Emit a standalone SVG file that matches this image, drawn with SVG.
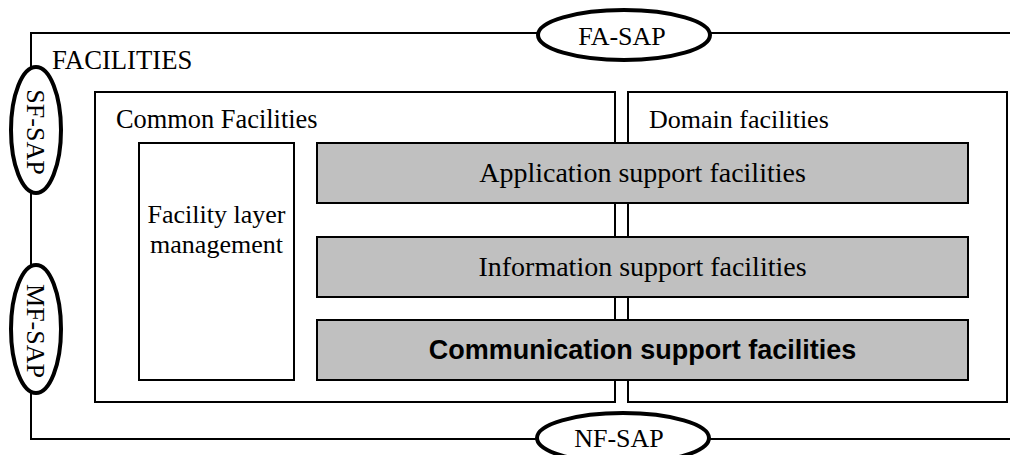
<svg xmlns="http://www.w3.org/2000/svg" width="1010" height="455" viewBox="0 0 1010 455">
<style>
.box{fill:#fff;stroke:#000;stroke-width:2}
.gray{fill:#c0c0c0;stroke:#000;stroke-width:2}
.sap{fill:#fff;stroke:#000;stroke-width:4}
.line{fill:none;stroke:#000;stroke-width:2}
.t{font-family:"Liberation Serif","Times New Roman",serif;font-size:26px;fill:#000}
.g{font-family:"Liberation Serif","Times New Roman",serif;font-size:28px;fill:#000}
.b{font-family:"Liberation Sans",Arial,sans-serif;font-size:27px;font-weight:bold;fill:#000}
</style>
<rect width="1010" height="455" fill="#fff"/>
<g id="connectors">
<path class="line" d="M1010,33 H31 V439 H1010"/>
</g>
<g id="facilities">
<text class="t" x="52" y="69" style="font-size:26.7px">FACILITIES</text>
</g>
<g id="common-facilities">
<rect class="box" x="95" y="92" width="520" height="310"/>
<text class="t" x="116" y="128" style="font-size:26.4px">Common Facilities</text>
</g>
<g id="domain-facilities">
<rect class="box" x="628" y="92" width="379" height="310"/>
<text class="t" x="649" y="128">Domain facilities</text>
</g>
<g id="facility-layer-management">
<rect class="box" x="139" y="143" width="155" height="237"/>
<text class="t" x="216.5" y="223" text-anchor="middle">Facility layer</text>
<text class="t" x="216.5" y="253" text-anchor="middle">management</text>
</g>
<g id="application-support">
<rect class="gray" x="317" y="143" width="651" height="60"/>
<text class="g" x="642.5" y="182" text-anchor="middle">Application support facilities</text>
</g>
<g id="information-support">
<rect class="gray" x="317" y="237" width="651" height="60"/>
<text class="g" x="642.5" y="276" text-anchor="middle">Information support facilities</text>
</g>
<g id="communication-support">
<rect class="gray" x="317" y="320" width="651" height="60"/>
<text class="b" x="642.5" y="359" text-anchor="middle">Communication support facilities</text>
</g>
<g id="fa-sap">
<ellipse class="sap" cx="624" cy="35" rx="86" ry="25"/>
<text class="t" x="622" y="45" text-anchor="middle">FA-SAP</text>
</g>
<g id="nf-sap">
<ellipse class="sap" cx="623" cy="438" rx="86" ry="25"/>
<text class="t" x="619" y="447" text-anchor="middle">NF-SAP</text>
</g>
<g id="sf-sap">
<ellipse class="sap" cx="36" cy="130" rx="25" ry="63"/>
<text class="t" x="0" y="0" text-anchor="middle" transform="translate(27,132) rotate(90)">SF-SAP</text>
</g>
<g id="mf-sap">
<ellipse class="sap" cx="36" cy="329" rx="25" ry="64"/>
<text class="t" x="0" y="0" text-anchor="middle" transform="translate(27,331) rotate(90)">MF-SAP</text>
</g>
</svg>
